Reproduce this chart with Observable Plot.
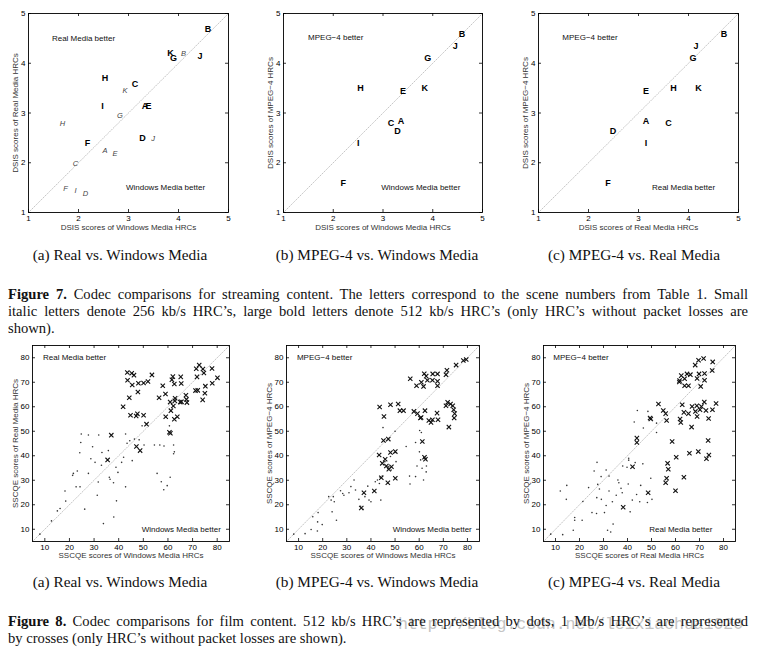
<!DOCTYPE html>
<html>
<head>
<meta charset="utf-8">
<script src="https://cdn.jsdelivr.net/npm/d3@7"></script>
<script src="https://cdn.jsdelivr.net/npm/@observablehq/plot@0.6"></script>
<style>
  body { margin: 0; background: #fff; }
  #page { position: relative; width: 757px; height: 653px; background: #fff; overflow: hidden; }
  .panel { position: absolute; }
  .sub { position: absolute; font-family: "Liberation Serif", serif; font-size: 15.3px; line-height: 17px; color: #111; text-align: center; white-space: nowrap; }
  .cap { position: absolute; left: 8px; width: 740px; font-family: "Liberation Serif", serif; font-size: 14.6px; line-height: 17px; color: #111; }
  .cap div { text-align: justify; text-align-last: justify; white-space: nowrap; }
  .cap div.last { text-align: left; text-align-last: left; }
  .wm { position: absolute; left: 398px; top: 615px; font-family: "Liberation Mono", monospace; font-size: 16.6px; color: #c4c4c4; white-space: nowrap; letter-spacing: -0.1px; }
</style>
</head>
<body>
<div id="page"></div>
<script>
// ---------------- data ----------------
const dsisTicks = [1, 2, 3, 4, 5];
const dsisDomain = [1, 5];
const ssTicks = [10, 20, 30, 40, 50, 60, 70, 80];
const ssDomain = [5, 85];

// Figure 7 (a): Real (y) vs Windows Media (x)
const rwBoldLabels = ["B", "K", "G", "J", "H", "C", "I", "A", "E", "D", "F"];
const rwBoldX = [4.59, 3.84, 3.90, 4.43, 2.53, 3.13, 2.48, 3.33, 3.40, 3.28, 2.18];
const rwBoldY = [4.68, 4.20, 4.10, 4.14, 3.70, 3.59, 3.14, 3.14, 3.14, 2.50, 2.39];
const rwItalLabels = ["B", "K", "G", "H", "J", "A", "E", "C", "F", "I", "D"];
const rwItalX = [4.10, 2.93, 2.83, 1.68, 3.49, 2.53, 2.73, 1.94, 1.74, 1.94, 2.14];
const rwItalY = [4.20, 3.45, 2.95, 2.78, 2.49, 2.24, 2.18, 1.98, 1.48, 1.44, 1.38];

// Figure 7 (b): MPEG-4 (y) vs Windows Media (x)
const mwBoldLabels = ["B", "J", "G", "H", "E", "K", "C", "A", "D", "I", "F"];
const mwBoldX = [4.59, 4.45, 3.90, 2.55, 3.40, 3.84, 3.16, 3.36, 3.29, 2.50, 2.20];
const mwBoldY = [4.59, 4.35, 4.11, 3.50, 3.45, 3.50, 2.80, 2.84, 2.64, 2.39, 1.59];

// Figure 7 (c): MPEG-4 (y) vs Real Media (x)
const mrBoldLabels = ["B", "J", "G", "E", "H", "K", "A", "C", "D", "I", "F"];
const mrBoldX = [4.71, 4.15, 4.09, 3.15, 3.70, 4.20, 3.15, 3.60, 2.49, 3.15, 2.39];
const mrBoldY = [4.59, 4.35, 4.11, 3.45, 3.50, 3.50, 2.84, 2.80, 2.64, 2.39, 1.59];

// Figure 8 (a): Real vs Windows Media, [x, y]
const filmRWCross = [
  [43.5,74.0],[45.3,73.7],[46.2,72.9],[43.6,70.8],[45.5,68.9],[48.0,69.6],[50.1,69.7],[51.9,70.3],[53.5,73.0],
  [44.3,63.7],[47.8,66.0],[41.8,60.0],[44.8,56.5],[47.1,56.2],[47.6,57.1],[50.1,56.5],[51.3,52.9],[37.0,48.4],
  [47.2,43.8],[48.7,42.1],[35.5,38.3],[60.6,49.6],[61.0,49.2],[56.4,63.7],[57.9,68.6],[59.0,65.2],[59.1,55.9],
  [60.9,61.9],[61.2,58.4],[61.6,71.0],[62.0,72.3],[62.2,60.3],[62.6,54.9],[62.6,69.3],[62.9,63.5],[62.8,62.4],
  [63.8,55.9],[65.2,72.2],[65.4,69.5],[65.0,61.9],[65.5,62.0],[67.3,64.7],[67.5,63.0],[67.7,61.7],[71.5,75.5],
  [72.7,77.0],[71.8,72.2],[71.2,66.6],[72.1,66.7],[74.2,75.4],[74.6,73.8],[74.1,62.8],[75.0,65.5],[75.2,68.4],
  [77.9,75.6],[78.0,69.6],[80.1,71.8]
];
const filmRWDot = [
  [24.8,48.9],[27.7,48.5],[31.9,48.5],[42.8,48.9],[24.6,45.4],[29.4,43.7],[33.2,41.3],[35.8,42.1],[24.2,41.2],
  [28.7,38.8],[30.4,37.3],[33.0,36.1],[23.2,33.8],[21.6,32.8],[21.3,32.0],[27.7,32.8],[36.2,31.2],[36.5,30.4],
  [38.9,35.3],[39.7,33.2],[41.2,37.3],[42.0,39.4],[43.4,45.1],[44.5,46.1],[46.4,46.8],[48.3,46.5],[49.5,52.2],
  [50.3,44.4],[54.5,44.4],[56.7,44.4],[58.4,44.0],[60.6,52.2],[62.3,44.4],[62.3,40.8],[62.6,41.6],[45.5,38.0],
  [55.6,32.8],[57.3,29.4],[58.3,26.1],[59.7,27.8],[60.9,31.2],[37.9,29.0],[42.8,27.3],[31.7,29.3],[31.3,23.9],
  [22.7,27.3],[24.3,27.3],[18.2,25.6],[18.5,21.5],[16.2,18.5],[15.1,17.5],[12.7,13.4],[26.2,18.2],[39.1,21.6],
  [38.0,15.0],[33.8,12.3],[8.0,8.0]
];

// Figure 8 (b): MPEG-4 vs Windows Media
const filmMWCross = [
  [78.3,78.9],[79.5,79.3],[75.3,77.0],[71.5,74.9],[71.1,73.1],[62.1,73.5],[62.9,72.5],[63.4,70.8],[65.6,73.4],
  [67.6,73.4],[67.6,70.4],[67.6,68.6],[65.5,70.8],[60.9,70.0],[61.8,68.3],[58.9,68.6],[56.3,71.4],[43.6,59.9],
  [48.1,60.8],[51.3,61.1],[52.0,58.4],[53.5,58.4],[45.4,56.0],[57.8,58.1],[59.3,57.2],[60.5,55.4],[62.4,58.4],
  [64.0,54.4],[65.5,54.7],[64.9,53.6],[67.8,54.7],[67.4,57.4],[71.8,61.8],[73.0,61.1],[73.9,60.4],[74.3,58.8],
  [74.7,57.2],[74.5,55.4],[71.1,60.4],[72.3,51.7],[45.2,46.2],[47.2,46.8],[43.4,40.3],[45.9,38.6],[48.1,41.3],
  [50.1,41.7],[44.7,36.9],[46.4,35.8],[47.4,34.5],[48.5,35.5],[44.3,31.0],[47.0,29.0],[50.1,30.8],[41.4,25.6],
  [37.1,24.9],[61.3,45.8],[62.2,39.4],[62.6,38.6],[36.0,18.7],[60.8,55.6]
];
const filmMWDot = [
  [12.7,8.2],[15.2,9.9],[15.9,15.1],[17.9,13.0],[18.1,16.8],[19.8,11.9],[22.5,23.3],[23.5,21.9],[23.9,17.1],
  [24.4,23.3],[25.7,13.7],[24.8,21.2],[27.4,25.7],[28.3,24.6],[28.8,23.9],[30.9,24.9],[31.7,27.4],[33.0,30.1],
  [33.6,26.0],[35.0,22.2],[35.7,19.4],[36.7,18.1],[37.5,23.3],[38.7,27.6],[39.2,21.9],[40.0,21.2],[41.8,29.4],
  [42.7,30.1],[43.5,28.7],[43.8,31.2],[44.7,31.7],[45.8,37.6],[44.1,21.9],[47.0,34.7],[47.4,35.6],[48.4,34.2],
  [48.1,39.7],[50.0,41.3],[50.4,37.6],[50.0,50.0],[45.0,51.5],[54.6,43.8],[56.0,31.7],[56.2,28.5],[58.5,31.5],
  [59.1,35.8],[60.6,38.3],[61.2,34.9],[61.8,30.1],[62.9,33.4],[63.0,35.8],[60.1,41.6],[60.2,50.3],[60.9,49.5],
  [58.5,45.4],[17.8,9.3],[8.0,8.0]
];

// Figure 8 (c): MPEG-4 vs Real Media
const filmMRCross = [
  [69.6,79.0],[71.7,79.7],[68.2,77.0],[75.5,78.3],[75.3,74.8],[62.4,72.7],[64.8,73.4],[66.2,73.1],[69.8,73.4],
  [72.1,73.6],[69.0,71.5],[72.1,70.8],[63.8,71.4],[61.7,70.7],[61.6,70.1],[63.8,68.6],[65.4,68.6],[70.5,68.3],
  [52.9,61.1],[62.8,60.8],[66.9,60.1],[68.9,60.4],[70.8,60.1],[72.0,61.9],[76.9,61.3],[75.4,58.8],[72.7,58.5],
  [70.2,58.8],[68.3,58.1],[63.5,57.7],[65.4,57.2],[69.0,56.0],[73.8,55.2],[66.7,51.7],[54.9,58.5],[55.9,57.2],
  [56.3,54.4],[49.4,55.4],[49.7,55.0],[61.9,55.0],[62.2,53.6],[58.6,45.8],[73.6,46.2],[65.8,41.0],[69.5,41.7],
  [73.9,40.3],[72.9,38.8],[60.3,39.4],[56.7,36.9],[57.0,34.5],[56.3,30.8],[55.9,29.0],[63.5,31.2],[60.0,25.7],
  [48.6,24.9],[43.9,47.2],[43.9,45.4],[42.1,35.5],[38.2,19.0]
];
const filmMRDot = [
  [12.0,25.6],[14.7,27.9],[14.5,22.2],[13.0,7.8],[17.4,9.6],[18.0,14.8],[18.0,13.7],[21.1,13.7],[21.4,21.3],
  [23.8,27.0],[25.2,16.8],[26.1,33.8],[27.1,16.4],[27.3,37.3],[27.6,28.3],[27.2,22.9],[28.3,26.4],[29.1,22.2],
  [29.0,31.5],[30.4,16.8],[31.1,19.7],[31.1,34.2],[32.3,31.7],[32.3,25.6],[31.7,9.6],[33.0,8.9],[34.0,12.1],
  [33.7,21.2],[35.3,23.9],[36.0,30.1],[36.4,29.0],[37.3,26.7],[37.8,24.9],[38.0,35.8],[39.8,35.3],[40.5,39.0],
  [40.5,38.2],[41.1,17.1],[40.3,28.5],[42.0,21.9],[43.2,37.2],[43.8,24.2],[45.1,21.2],[45.5,27.9],[46.4,36.7],
  [46.6,51.3],[42.8,53.8],[44.1,58.5],[48.5,58.1],[50.2,22.2],[49.7,30.8],[52.1,53.3],[52.1,49.5],[48.3,20.9],
  [8.0,8.0]
];

// annotations: [text, x, y]
const rwNotes = [["Real Media better", 2.10, 4.50], ["Windows Media better", 3.74, 1.50]];
const mwNotes = [["MPEG\u22124 better", 2.05, 4.51], ["Windows Media better", 3.76, 1.50]];
const mrNotes = [["MPEG\u22124 better", 2.03, 4.51], ["Real Media better", 3.90, 1.50]];
const filmRWNotes = [["Real Media better", 22.1, 80], ["Windows Media better", 65.4, 10]];
const filmMWNotes = [["MPEG\u22124 better", 20.8, 80], ["Windows Media better", 65.4, 10]];
const filmMRNotes = [["MPEG\u22124 better", 20.6, 80], ["Real Media better", 62.2, 10]];

// ---------------- drawing ----------------
const page = document.getElementById("page");
const FONT = "'Liberation Sans', Arial, Helvetica, sans-serif";

function place(node, left, top) {
  const d = document.createElement("div");
  d.className = "panel";
  d.style.left = left + "px";
  d.style.top = top + "px";
  d.appendChild(node);
  page.appendChild(d);
}

function boxMarks(ticks, frameW, frameH, len) {
  return [
    Plot.ruleX(ticks, {x: d => d, insetTop: frameH - len, stroke: "#000", strokeWidth: 0.8}),
    Plot.ruleX(ticks, {x: d => d, insetBottom: frameH - len, stroke: "#000", strokeWidth: 0.8}),
    Plot.ruleY(ticks, {y: d => d, insetRight: frameW - len, stroke: "#000", strokeWidth: 0.8}),
    Plot.ruleY(ticks, {y: d => d, insetLeft: frameW - len, stroke: "#000", strokeWidth: 0.8})
  ];
}

function panel(cfg) {
  const frameW = cfg.width - cfg.mL - cfg.mR;
  const frameH = cfg.height - cfg.mT - cfg.mB;
  return Plot.plot({
    width: cfg.width, height: cfg.height,
    marginLeft: cfg.mL, marginRight: cfg.mR, marginTop: cfg.mT, marginBottom: cfg.mB,
    style: {fontFamily: FONT, fontSize: "8px", color: "#000", background: "transparent", overflow: "visible"},
    x: {domain: cfg.domain, ticks: cfg.ticks, tickSize: 0, tickPadding: 3, tickFormat: d => String(d), label: null},
    y: {domain: cfg.domain, ticks: cfg.ticks, tickSize: 0, tickPadding: 3, tickFormat: d => String(d), label: null},
    marks: [
      Plot.line(cfg.domain, {x: d => d, y: d => d, stroke: "#c6c6c6", strokeWidth: 1, strokeDasharray: "1,1.6"}),
      ...cfg.content,
      Plot.text(cfg.notes, {x: d => d[1], y: d => d[2], text: d => d[0], fontSize: 8, fill: "#111", textAnchor: "middle"}),
      Plot.frame({stroke: "#000", strokeWidth: 0.9}),
      ...boxMarks(cfg.ticks, frameW, frameH, 3),
      Plot.text([cfg.xLabel], {frameAnchor: "bottom", dy: cfg.xLabelDy, text: d => d, fontSize: 8, fill: "#333", textAnchor: "middle"}),
      Plot.text([cfg.yLabel], {frameAnchor: "left", dx: cfg.yLabelDx, rotate: -90, text: d => d, fontSize: 8, fill: "#333", textAnchor: "middle"})
    ]
  });
}

function letters(labels, xs, ys, bold) {
  return Plot.text(labels, {
    x: (d, i) => xs[i], y: (d, i) => ys[i], text: d => d,
    fontSize: bold ? 9 : 7.5, fontWeight: bold ? "bold" : "normal",
    fontStyle: bold ? "normal" : "italic", fill: bold ? "#000" : "#444"
  });
}

function filmContent(dots, crosses) {
  return [
    Plot.dot(dots, {x: d => d[0], y: d => d[1], r: 0.8, fill: "#333", stroke: "none"}),
    Plot.dot(crosses, {x: d => d[0], y: d => d[1], symbol: "times", r: 2.1, stroke: "#111", strokeWidth: 1.1})
  ];
}

const topCommon = {height: 240, mT: 13, mB: 28, domain: dsisDomain, ticks: dsisTicks, xLabelDy: 17, yLabelDx: -13};
place(panel({...topCommon, width: 240, mL: 28, mR: 12,
  xLabel: "DSIS scores of Windows Media HRCs", yLabel: "DSIS scores of Real Media HRCs", notes: rwNotes,
  content: [letters(rwItalLabels, rwItalX, rwItalY, false), letters(rwBoldLabels, rwBoldX, rwBoldY, true)]}), 0, 0);
place(panel({...topCommon, width: 240, mL: 33, mR: 8,
  xLabel: "DSIS scores of Windows Media HRCs", yLabel: "DSIS scores of MPEG\u22124 HRCs", notes: mwNotes,
  content: [letters(mwBoldLabels, mwBoldX, mwBoldY, true)]}), 250, 0);
place(panel({...topCommon, width: 245, mL: 33, mR: 12,
  xLabel: "DSIS scores of Real Media HRCs", yLabel: "DSIS scores of MPEG\u22124 HRCs", notes: mrNotes,
  content: [letters(mrBoldLabels, mrBoldX, mrBoldY, true)]}), 505, 0);

const botCommon = {height: 230, mT: 10, mB: 24, domain: ssDomain, ticks: ssTicks, xLabelDy: 16, yLabelDx: -17};
place(panel({...botCommon, width: 240, mL: 32, mR: 11,
  xLabel: "SSCQE scores of Windows Media HRCs", yLabel: "SSCQE scores of Real Media HRCs", notes: filmRWNotes,
  content: filmContent(filmRWDot, filmRWCross)}), 0, 335);
place(panel({...botCommon, width: 240, mL: 36, mR: 11,
  xLabel: "SSCQE scores of Windows Media HRCs", yLabel: "SSCQE scores of MPEG\u22124 HRCs", notes: filmMWNotes,
  content: filmContent(filmMWDot, filmMWCross)}), 250, 335);
place(panel({...botCommon, width: 240, mL: 38, mR: 10,
  xLabel: "SSCQE scores of Real Media HRCs", yLabel: "SSCQE scores of MPEG\u22124 HRCs", notes: filmMRNotes,
  content: filmContent(filmMRDot, filmMRCross)}), 505, 335);

// ---------------- captions ----------------
function addDiv(cls, html, left, top, width) {
  const d = document.createElement("div");
  d.className = cls;
  d.innerHTML = html;
  if (left != null) d.style.left = left + "px";
  d.style.top = top + "px";
  if (width != null) d.style.width = width + "px";
  page.appendChild(d);
  return d;
}
const subCaps = ["(a) Real vs. Windows Media", "(b) MPEG-4 vs. Windows Media", "(c) MPEG-4 vs. Real Media"];
const subCenters = [120, 377, 634];
subCaps.forEach((t, i) => {
  addDiv("sub", t, subCenters[i] - 120, 246, 240);
  addDiv("sub", t, subCenters[i] - 120, 573, 240);
});
const fig7Lines = [
  "<b>Figure 7.</b> Codec comparisons for streaming content. The letters correspond to the scene numbers from Table 1. Small",
  "italic letters denote 256 kb/s HRC\u2019s, large bold letters denote 512 kb/s HRC\u2019s (only HRC\u2019s without packet losses are",
  "shown)."
];
const fig8Lines = [
  "<b>Figure 8.</b> Codec comparisons for film content. 512 kb/s HRC\u2019s are represented by dots, 1 Mb/s HRC\u2019s are represented",
  "by crosses (only HRC\u2019s without packet losses are shown)."
];
addDiv("wm", "http://blog.csdn.net/leixiaohua1020", null, 615, null);
function caption(lines, top) {
  const html = lines.map((l, i) => `<div class="${i === lines.length - 1 ? "last" : ""}">${l}</div>`).join("");
  addDiv("cap", html, null, top, null);
}
caption(fig7Lines, 286);
caption(fig8Lines, 613);
</script>
</body>
</html>
